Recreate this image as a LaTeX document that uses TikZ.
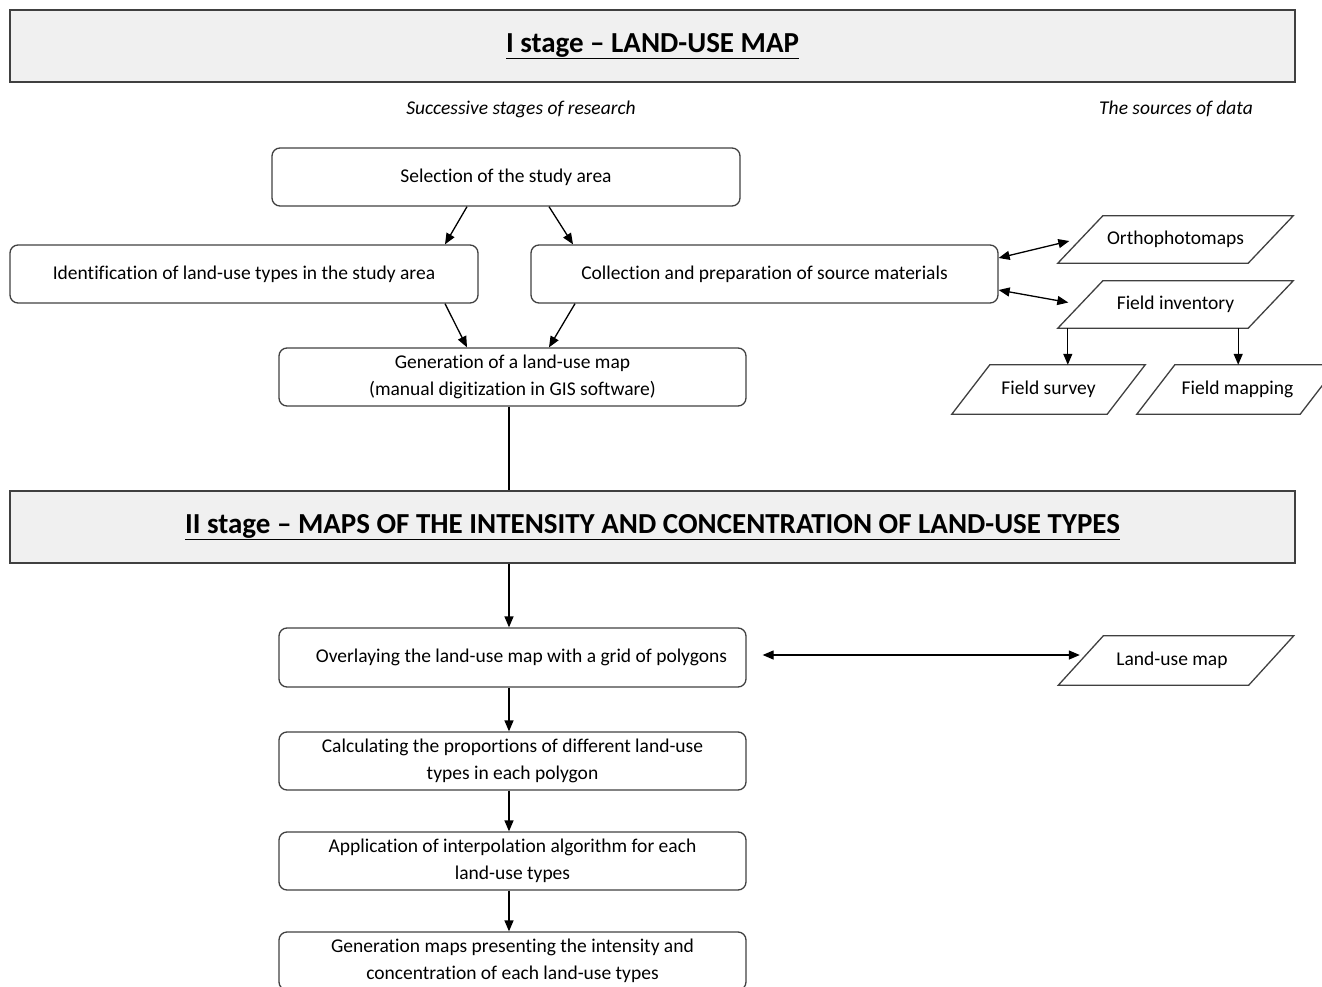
\documentclass[tikz,border=0pt]{standalone}
\usepackage{fontspec}
\setmainfont{Carlito}[Ligatures={NoCommon}]
\usetikzlibrary{arrows.meta,calc}
\newcommand\drawpg[2]{\draw[pline] ($(#1.south west)+(-#2,0)$) -- ($(#1.north west)+(#2,0)$) -- ($(#1.north east)+(#2,0)$) -- ($(#1.south east)+(-#2,0)$) -- cycle;}
\begin{document}
\begin{tikzpicture}[x=1pt,y=-1pt,
  txt/.style={font=\fontsize{19.5}{27}\selectfont},
  box/.style={txt,draw=black!75, line width=1.3pt, rounded corners=8pt, minimum width=467pt, minimum height=58pt, inner sep=0pt, align=center},
  stagebox/.style={draw=black!75, line width=1.3pt, fill=black!6, minimum width=1285pt, minimum height=72pt, inner sep=0pt, font=\fontsize{29}{34}\selectfont\bfseries},
  pgnode/.style={txt, inner sep=0pt, minimum width=190pt, minimum height=47pt},
  pline/.style={draw=black!75, line width=1.3pt, line join=miter},
  arr/.style={-{Triangle[length=11pt,width=9pt]}, line width=1.3pt},
  darr/.style={{Triangle[length=11pt,width=9pt]}-{Triangle[length=11pt,width=9pt]}, line width=1.3pt},
  hint/.style={font=\fontsize{19.5}{27}\selectfont\itshape}
]
\useasboundingbox (0,0) rectangle (1322,987);
% stage headers
\node[stagebox] (s1) at (652.5,46) {\underline{I stage – LAND-USE MAP}};
\node[stagebox] (s2) at (652.5,527) {\underline{II stage – MAPS OF THE INTENSITY AND CONCENTRATION OF LAND-USE TYPES}};
% column labels
\node[hint] (h1) at (521,109) {Successive stages of research};
\node[hint] (h2) at (1176,109) {The sources of data};
% stage I boxes
\node[box, minimum width=468pt] (sel) at (506,177) {Selection of the study area};
\node[box, minimum width=468pt] (ident) at (244,274) {Identification of land-use types in the study area};
\node[box] (coll) at (764.5,274) {Collection and preparation of source materials};
\node[box] (gen) at (512.5,377) {Generation of a land-use map\\(manual digitization in GIS software)};
% sources
\node[pgnode] (ortho) at (1175.5,239.5) {Orthophotomaps};
\drawpg{ortho}{22.5}
\node[pgnode] (finv) at (1175.5,304.5) {Field inventory};
\drawpg{finv}{22.5}
\node[pgnode, minimum width=155pt, minimum height=49pt] (survey) at (1048.5,389.5) {Field survey};
\drawpg{survey}{19}
\node[pgnode, minimum width=163pt, minimum height=49pt] (fmap) at (1237.5,389.5) {Field mapping};
\drawpg{fmap}{19}
\node[pgnode, minimum height=49pt] (lmap) at (1172,660.5) {Land-use map};
\draw[pline] ($(lmap.south west)+(-18.5,0)$) -- ($(lmap.north west)+(26.5,0)$) -- ($(lmap.north east)+(26.5,0)$) -- ($(lmap.south east)+(-18.5,0)$) -- cycle;
% stage II boxes
\node[box, minimum height=59pt] (over) at (512.5,657.5) {\hspace*{18pt}Overlaying the land-use map with a grid of polygons};
\node[box] (calc) at (512.5,761) {Calculating the proportions of different land-use\\types in each polygon};
\node[box] (app) at (512.5,861) {Application of interpolation algorithm for each\\land-use types};
\node[box] (fin) at (512.5,961) {Generation maps presenting the intensity and\\concentration of each land-use types};
% connectors stage I
\draw[arr] ([xshift=-39pt]sel.south) -- ([xshift=201pt]ident.north);
\draw[arr] ([xshift=43pt]sel.south) -- ([xshift=-191.5pt]coll.north);
\draw[arr] ([xshift=201pt]ident.south) -- ([xshift=-45.5pt]gen.north);
\draw[arr] ([xshift=-189.5pt]coll.south) -- ([xshift=36.5pt]gen.north);
\draw[line width=1.3pt] ([xshift=-3.5pt]gen.south) -- ([xshift=-3.5pt]gen.south |- s2.north);
% sources connectors
\draw[darr] ([yshift=16pt]coll.east) -- ([xshift=-11pt,yshift=-1.5pt]ortho.west);
\draw[darr] ([yshift=-16pt]coll.east) -- ([xshift=-12pt,yshift=2pt]finv.west);
\draw[arr] ([xshift=-12.5pt]finv.south west) -- ([xshift=-12.5pt]finv.south west |- survey.north);
\draw[arr] ([xshift=-32.5pt]finv.south east) -- ([xshift=-32.5pt]finv.south east |- fmap.north);
% stage II connectors
\draw[arr] ([xshift=-3.5pt]over.north |- s2.south) -- ([xshift=-3.5pt]over.north);
\draw[arr] ([xshift=-3.5pt]over.south) -- ([xshift=-3.5pt]calc.north);
\draw[arr] ([xshift=-3.5pt]calc.south) -- ([xshift=-3.5pt]app.north);
\draw[arr] ([xshift=-3.5pt]app.south) -- ([xshift=-3.5pt]fin.north);
\draw[darr] ([xshift=16pt,yshift=2.5pt]over.east) -- ([xshift=3pt,yshift=2.5pt]over.east -| lmap.west);
\end{tikzpicture}
\end{document}
